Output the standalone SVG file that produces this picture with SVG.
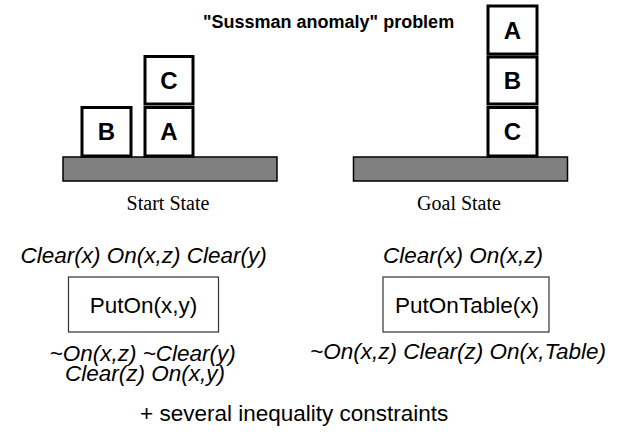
<svg xmlns="http://www.w3.org/2000/svg" width="627" height="436" viewBox="0 0 627 436">
<style>
.blk{fill:#fff;stroke:#000;stroke-width:3}
.tbl{fill:#808080;stroke:#000;stroke-width:1.5}
.bl{font-family:"Liberation Sans",Arial,sans-serif;font-weight:bold;font-size:24px;fill:#000;text-anchor:middle}
.cap{font-family:"Liberation Serif","Times New Roman",serif;font-size:20px;fill:#000;text-anchor:middle}
.ttl{font-family:"Liberation Sans",Arial,sans-serif;font-weight:bold;font-size:18px;fill:#000}
.op{fill:#fff;stroke:#333;stroke-width:1.2}
.opt{font-family:"Liberation Sans",Arial,sans-serif;font-size:22.5px;fill:#000;text-anchor:middle}
.it{font-family:"Liberation Sans",Arial,sans-serif;font-style:italic;font-size:22.5px;fill:#000}
.txt{font-family:"Liberation Sans",Arial,sans-serif;font-size:22.5px;fill:#000}
</style>
<text class="ttl" x="203" y="28">"Sussman anomaly" problem</text>
<g id="start-state">
<rect class="tbl" x="63" y="157" width="214" height="24"/>
<g id="start-B"><rect class="blk" x="82" y="107.5" width="49" height="48.5"/><text class="bl" x="106.5" y="140">B</text></g>
<g id="start-C"><rect class="blk" x="145" y="56.5" width="48" height="47.5"/><text class="bl" x="169" y="89">C</text></g>
<g id="start-A"><rect class="blk" x="145" y="107.5" width="48" height="48.5"/><text class="bl" x="169" y="140">A</text></g>
<text class="cap" x="168" y="210">Start State</text>
</g>
<g id="goal-state">
<rect class="tbl" x="353.5" y="157" width="214" height="24"/>
<g id="goal-A"><rect class="blk" x="488" y="6" width="49" height="48"/><text class="bl" x="512.5" y="39">A</text></g>
<g id="goal-B"><rect class="blk" x="488" y="57" width="49" height="47"/><text class="bl" x="512.5" y="89">B</text></g>
<g id="goal-C"><rect class="blk" x="488" y="107.5" width="49" height="48.5"/><text class="bl" x="512.5" y="140">C</text></g>
<text class="cap" x="459" y="210">Goal State</text>
</g>
<g id="puton">
<text class="it" x="20.5" y="263">Clear(x) On(x,z) Clear(y)</text>
<rect class="op" x="68.5" y="277" width="150" height="55"/>
<text class="opt" x="143.5" y="312.5">PutOn(x,y)</text>
<text class="it" x="49.5" y="360.5">~On(x,z) ~Clear(y)</text>
<text class="it" x="65" y="381">Clear(z) On(x,y)</text>
</g>
<g id="putontable">
<text class="it" x="383" y="263">Clear(x) On(x,z)</text>
<rect class="op" x="383" y="277" width="166" height="55"/>
<text class="opt" x="467" y="312.5">PutOnTable(x)</text>
<text class="it" x="310" y="359">~On(x,z) Clear(z) On(x,Table)</text>
</g>
<g id="connectors"></g>
<text class="txt" x="140" y="421">+ several inequality constraints</text>
</svg>
